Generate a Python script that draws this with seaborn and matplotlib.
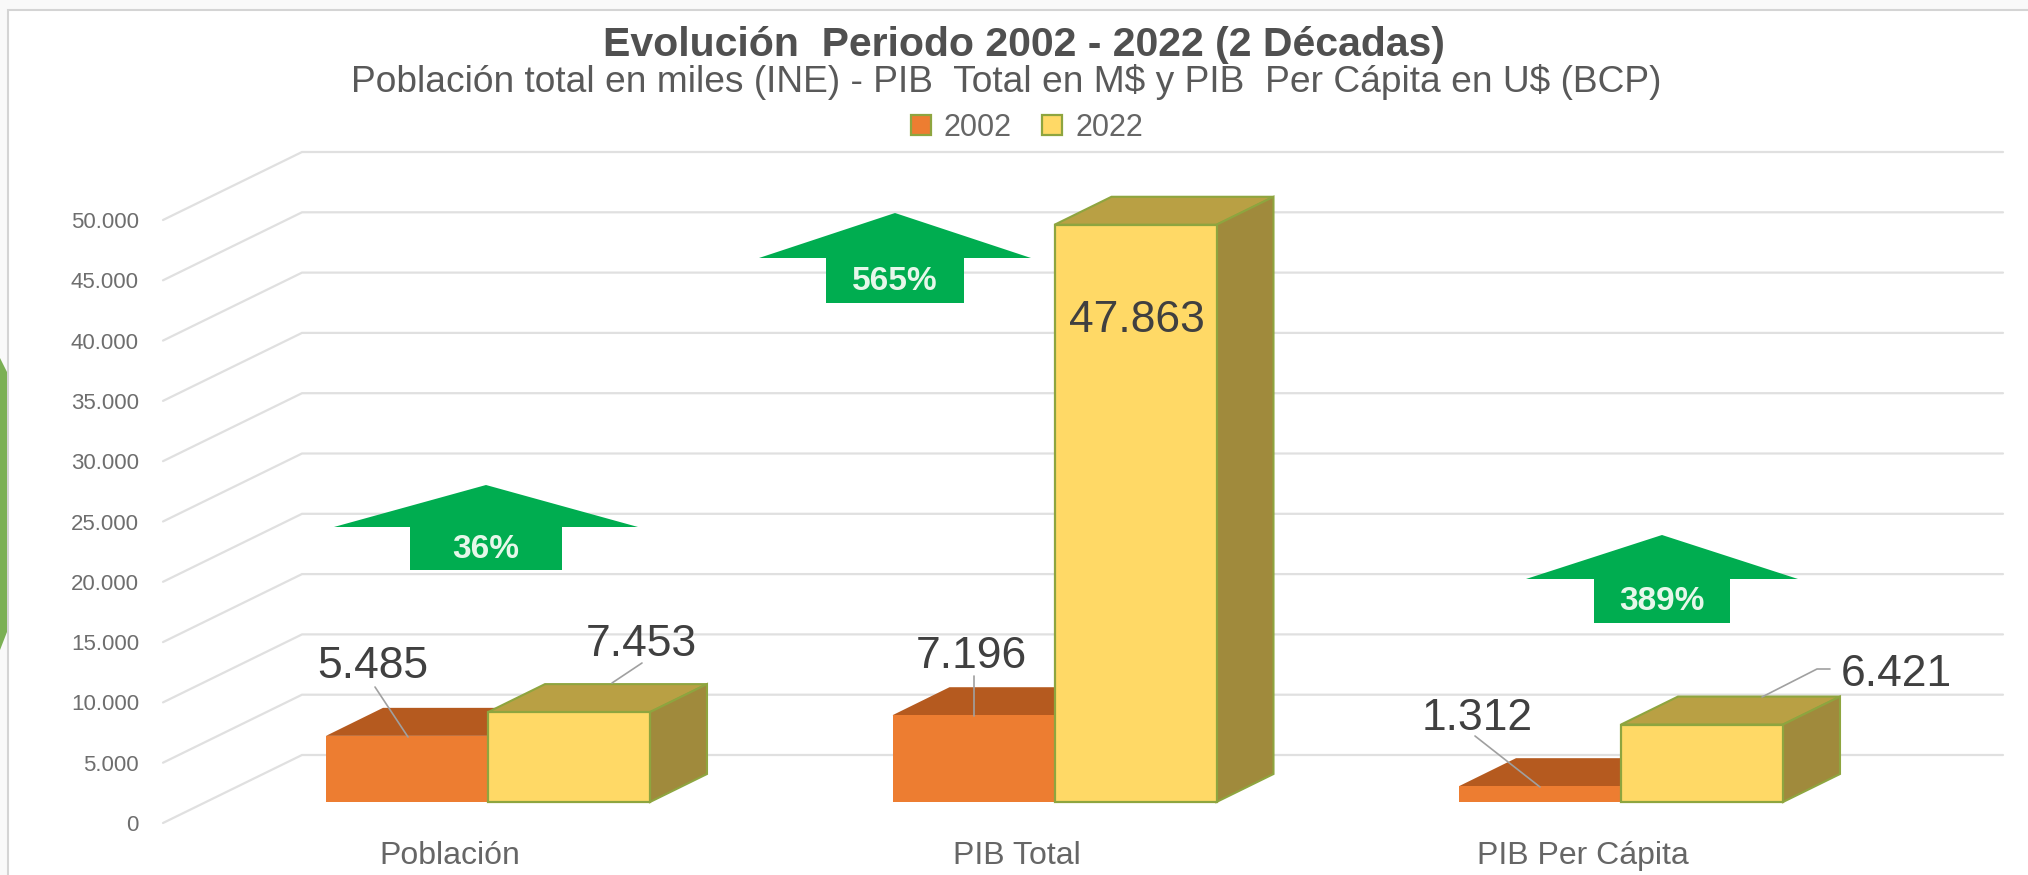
import matplotlib
matplotlib.use('Agg')
import matplotlib.pyplot as plt
from matplotlib.patches import Polygon, Rectangle
from matplotlib.transforms import Affine2D, ScaledTranslation
from matplotlib.ticker import FuncFormatter
import pandas as pd
import seaborn as sns

# values
categories = ['Población', 'PIB Total', 'PIB Per Cápita']
years = ['2002', '2022']
values_2002 = [5485, 7196, 1312]
values_2022 = [7453, 47863, 6421]
growth_labels = ['36%', '565%', '389%']
y_ticks = list(range(0, 50001, 5000))

W, H = 2028, 875
PX_PER_UNIT = 60.3 / 5000   # pixels per unit on the value axis
BASE_Y = 802                # pixel row of the bar base
GROUP0_X = 488              # pixel column of first group centre
GROUP_STEP = 566.5
BAR_PX = 162
AX_LEFT, AX_BOTTOM = 150, 838

DEPTH_X, DEPTH_Y = 57, 28   # bar depth
WALL_X0, WALL_X1 = 302, 2003
SLANT_X0 = 163
FRONT_SHIFT = 21            # front plane sits below the bar base
BACK_SHIFT = 47             # back wall sits above the bar base


def fmt(v):
    return f'{int(v):,}'.replace(',', '.')


def xd(px):
    return (px - GROUP0_X) / GROUP_STEP


def yd(py):
    return (BASE_Y - py) / PX_PER_UNIT


sns.set_theme(style='white')
plt.rcParams['font.family'] = ['Liberation Sans', 'DejaVu Sans']

fig = plt.figure(figsize=(W / 100, H / 100), dpi=100, facecolor='#f9f9f9')
ax = fig.add_axes([AX_LEFT / W, 1 - AX_BOTTOM / H, 1 - AX_LEFT / W, AX_BOTTOM / H])
ax.patch.set_alpha(0)

# pixel coordinates with the origin top left
px = Affine2D().scale(1, -1).translate(0, H)

# page behind the chart
fig.add_artist(Rectangle((8, 10), W, H, transform=px, facecolor='white',
                         edgecolor='#d4d4d4', linewidth=1.5, zorder=-5))
fig.add_artist(Polygon([(0, 358), (7, 372), (7, 632), (0, 650)], transform=px,
                       facecolor='#7bb054', edgecolor='none', zorder=-4))

df = pd.DataFrame({
    'Indicador': categories * 2,
    'Año': [years[0]] * 3 + [years[1]] * 3,
    'Valor': values_2002 + values_2022,
})
bar_edge = '#8ea53f'
sns.barplot(data=df, x='Indicador', y='Valor', hue='Año', order=categories, hue_order=years,
            palette=['#ed7d31', '#ffd966'], width=2 * BAR_PX / GROUP_STEP, gap=0,
            edgecolor=bar_edge, linewidth=1.6, saturation=1, errorbar=None, ax=ax)

ax.set_xlim(xd(AX_LEFT), xd(W))
ax.set_ylim(yd(AX_BOTTOM), yd(0))
ax.set_xlabel('')
ax.set_ylabel('')
sns.despine(ax=ax, left=True, bottom=True)

# back wall and side wall lines
grid_c = '#e0e0e0'
for v in y_ticks:
    back = v + BACK_SHIFT / PX_PER_UNIT
    front = v - FRONT_SHIFT / PX_PER_UNIT
    ax.plot([xd(SLANT_X0), xd(WALL_X0), xd(WALL_X1)], [front, back, back],
            color=grid_c, linewidth=1.6, zorder=0, solid_joinstyle='miter')

# depth faces of the bars, taken from the bars themselves
dx, dy = DEPTH_X / GROUP_STEP, DEPTH_Y / PX_PER_UNIT
faces = {0: ('#b55a1f', '#9c4f1c', 'none'), 1: ('#b9a044', '#a08a3c', bar_edge)}
for i, cont in enumerate(ax.containers):
    top_c, side_c, edge_c = faces[i]
    for bar in cont:
        x0, x1 = bar.get_x(), bar.get_x() + bar.get_width()
        h = bar.get_height()
        z = 3 + i * 3
        ax.add_patch(Polygon([(x0, h), (x1, h), (x1 + dx, h + dy), (x0 + dx, h + dy)],
                             facecolor=top_c, edgecolor=edge_c, linewidth=1.5, zorder=z))
        ax.add_patch(Polygon([(x1, 0), (x1 + dx, dy), (x1 + dx, h + dy), (x1, h)],
                             facecolor=side_c, edgecolor=edge_c, linewidth=1.5, zorder=z))
        bar.set_zorder(z + 1)
        if i == 0:
            bar.set_edgecolor('none')

# ticks
ax.set_yticks(y_ticks)
ax.yaxis.set_major_formatter(FuncFormatter(lambda v, pos: fmt(v)))
ax.tick_params(axis='y', length=0, pad=8, labelsize=16, labelcolor='#6e6e6e')
ax.tick_params(axis='x', length=0, pad=2, labelsize=23, labelcolor='#666666')
for tick in ax.yaxis.get_major_ticks():
    tick.label1.set_transform(tick.label1.get_transform()
                              + ScaledTranslation(0, -FRONT_SHIFT / 100, fig.dpi_scale_trans))
for lab in ax.get_xticklabels():
    lab.set_transform(lab.get_transform() + ScaledTranslation(-38 / 100, 0, fig.dpi_scale_trans))

# data labels with leader lines
all_values = values_2002 + values_2022
label_pos = [(373, 667), (971, 657), (1477, 719), (641, 644), (1137, 320), (1896, 674)]
leaders = [[(375, 687), (408, 737)], [(974, 676), (974, 716)], [(1475, 736), (1540, 787)],
           [(642, 663), (612, 683)], None, [(1830, 669), (1817, 669), (1762, 697)]]
for v, pos, lead in zip(all_values, label_pos, leaders):
    if lead:
        ax.plot(*zip(*lead), transform=px, color='#a0a0a0', linewidth=1.2, zorder=12)
    ax.text(pos[0], pos[1], fmt(v), transform=px, ha='center', va='center',
            fontsize=32, color='#404040', zorder=13)

# growth arrows: tip x, tip y, wing half width, stem half width, wing y, bottom y
arrows = [(486, 485, 152, 76, 527, 570), (895, 213, 136, 69, 258, 303), (1662, 535, 136, 68, 579, 623)]
for (tx, ty, wing, stem, wy, by), txt in zip(arrows, growth_labels):
    ax.add_patch(Polygon([(tx, ty), (tx + wing, wy), (tx + stem, wy), (tx + stem, by),
                          (tx - stem, by), (tx - stem, wy), (tx - wing, wy)],
                         transform=px, facecolor='#00ad50', edgecolor='none', zorder=10))
    ax.text(tx, (wy + by) / 2 + 1, txt, transform=px, ha='center', va='center', fontsize=24,
            fontweight='bold', color='#e6f7ea', zorder=11)

# titles
fig.text(1024 / W, 1 - 45 / H, 'Evolución  Periodo 2002 - 2022 (2 Décadas)', ha='center', va='center',
         fontsize=29.5, fontweight='bold', color='#505050')
fig.text(1006 / W, 1 - 82 / H, r'Población total en miles (INE) - PIB  Total en M\$ y PIB  Per Cápita en U\$ (BCP)',
         ha='center', va='center', fontsize=26.7, color='#595959')

# legend
handles, labels = ax.get_legend_handles_labels()
ax.legend(handles, labels, loc='center', bbox_to_anchor=(1027 / W, 1 - 128 / H),
          bbox_transform=fig.transFigure, ncol=2, frameon=False, fontsize=22,
          labelcolor='#666666', handlelength=0.65, handleheight=0.65, handletextpad=0.42,
          columnspacing=1.0, borderpad=0)

fig.savefig('out.png', dpi=100, facecolor=fig.get_facecolor())
